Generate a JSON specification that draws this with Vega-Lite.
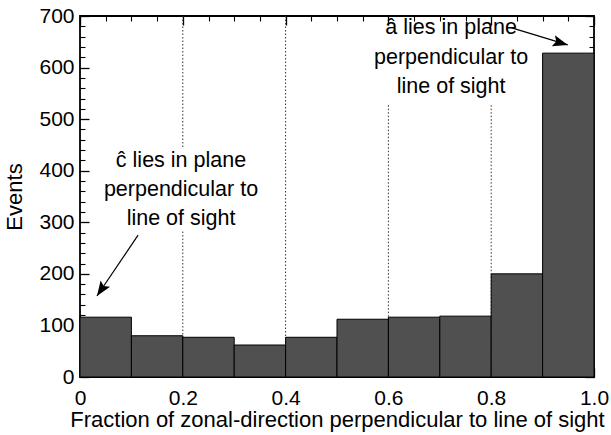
{
  "$schema": "https://vega.github.io/schema/vega-lite/v6.json",
  "width": 514,
  "height": 361,
  "autosize": {"type": "none"},
  "padding": {"left": 80, "top": 16, "right": 17, "bottom": 58},
  "config": {
    "view": {"stroke": "black", "strokeWidth": 1.8},
    "font": "Liberation Sans",
    "axis": {"domain": false, "grid": false, "labelColor": "black", "titleColor": "black", "labelFont": "Liberation Sans", "titleFont": "Liberation Sans", "labelFontSize": 21, "titleFontSize": 22, "titleFontWeight": "normal"}
  },
  "datasets": {
    "bars": [
      {"lo": 0.0, "hi": 0.1, "n": 116},
      {"lo": 0.1, "hi": 0.2, "n": 80},
      {"lo": 0.2, "hi": 0.3, "n": 77},
      {"lo": 0.3, "hi": 0.4, "n": 62},
      {"lo": 0.4, "hi": 0.5, "n": 77},
      {"lo": 0.5, "hi": 0.6, "n": 112},
      {"lo": 0.6, "hi": 0.7, "n": 116},
      {"lo": 0.7, "hi": 0.8, "n": 118},
      {"lo": 0.8, "hi": 0.9, "n": 200},
      {"lo": 0.9, "hi": 1.0, "n": 628}
    ],
    "grid": [
      {"x": 0.2, "y1": 700, "y2": 446},
      {"x": 0.2, "y1": 282, "y2": 0},
      {"x": 0.4, "y1": 700, "y2": 0},
      {"x": 0.6, "y1": 527, "y2": 0},
      {"x": 0.8, "y1": 527, "y2": 0}
    ],
    "labels": [
      {"x": 0.1965, "y": 419, "t": "ĉ lies in plane"},
      {"x": 0.1965, "y": 363, "t": "perpendicular to"},
      {"x": 0.1965, "y": 306, "t": "line of sight"},
      {"x": 0.722, "y": 676, "t": "â lies in plane"},
      {"x": 0.722, "y": 619, "t": "perpendicular to"},
      {"x": 0.722, "y": 562, "t": "line of sight"}
    ],
    "arrows": [
      {"x1": 0.113, "y1": 275, "x2": 0.033, "y2": 157, "ang": 214},
      {"x1": 0.84, "y1": 677, "x2": 0.949, "y2": 644, "ang": 106}
    ]
  },
  "resolve": {"axis": {"x": "independent", "y": "independent"}},
  "layer": [
    {
      "data": {"name": "grid"},
      "mark": {"type": "rule", "strokeDash": [1.5, 2], "strokeWidth": 1, "color": "#333"},
      "encoding": {
        "x": {"field": "x", "type": "quantitative", "scale": {"domain": [0, 1], "nice": false},
          "axis": {"orient": "bottom", "values": [0, 0.2, 0.4, 0.6, 0.8, 1.0], "labelExpr": "datum.value == 0 ? '0' : format(datum.value, '.1f')", "tickSize": -9, "tickColor": "black", "tickWidth": 1.3, "labelPadding": 19, "title": "Fraction of zonal-direction perpendicular to line of sight", "titlePadding": 1, "labelFlush": false}},
        "y": {"field": "y1", "type": "quantitative", "scale": {"domain": [0, 700], "nice": false},
          "axis": {"orient": "left", "values": [0, 100, 200, 300, 400, 500, 600, 700], "tickSize": -9, "tickColor": "black", "tickWidth": 1.3, "labelPadding": 15, "title": "Events", "titlePadding": 12, "labelFlush": false}},
        "y2": {"field": "y2"}
      }
    },
    {
      "data": {"name": "bars"},
      "mark": {"type": "rect", "fill": "#505050", "stroke": "black", "strokeWidth": 1},
      "encoding": {
        "x": {"field": "lo", "type": "quantitative", "scale": {"domain": [0, 1], "nice": false},
          "axis": {"orient": "top", "values": [0, 0.2, 0.4, 0.6, 0.8, 1.0], "labels": false, "tickSize": -9, "tickColor": "black", "tickWidth": 1.3, "title": null}},
        "x2": {"field": "hi"},
        "y": {"field": "n", "type": "quantitative", "scale": {"domain": [0, 700], "nice": false},
          "axis": {"orient": "right", "values": [0, 100, 200, 300, 400, 500, 600, 700], "labels": false, "tickSize": -9, "tickColor": "black", "tickWidth": 1.3, "title": null}},
        "y2": {"datum": 0}
      }
    },
    {
      "data": {"name": "labels"},
      "mark": {"type": "text", "fontSize": 21.5, "font": "Liberation Sans", "color": "black", "baseline": "middle", "align": "center"},
      "encoding": {
        "x": {"field": "x", "type": "quantitative", "scale": {"domain": [0, 1], "nice": false},
          "axis": {"orient": "bottom", "values": [0.05, 0.1, 0.15, 0.25, 0.3, 0.35, 0.45, 0.5, 0.55, 0.65, 0.7, 0.75, 0.85, 0.9, 0.95], "labels": false, "tickSize": -5, "tickColor": "black", "tickWidth": 1.1, "title": null}},
        "y": {"field": "y", "type": "quantitative", "scale": {"domain": [0, 700], "nice": false},
          "axis": {"orient": "left", "values": [20, 40, 60, 80, 120, 140, 160, 180, 220, 240, 260, 280, 320, 340, 360, 380, 420, 440, 460, 480, 520, 540, 560, 580, 620, 640, 660, 680], "labels": false, "tickSize": -5, "tickColor": "black", "tickWidth": 1.1, "title": null}},
        "text": {"field": "t"}
      }
    },
    {
      "data": {"name": "arrows"},
      "mark": {"type": "rule", "strokeWidth": 1.2, "color": "black"},
      "encoding": {
        "x": {"field": "x1", "type": "quantitative", "scale": {"domain": [0, 1], "nice": false},
          "axis": {"orient": "top", "values": [0.05, 0.1, 0.15, 0.25, 0.3, 0.35, 0.45, 0.5, 0.55, 0.65, 0.7, 0.75, 0.85, 0.9, 0.95], "labels": false, "tickSize": -5, "tickColor": "black", "tickWidth": 1.1, "title": null}},
        "y": {"field": "y1", "type": "quantitative", "scale": {"domain": [0, 700], "nice": false},
          "axis": {"orient": "right", "values": [20, 40, 60, 80, 120, 140, 160, 180, 220, 240, 260, 280, 320, 340, 360, 380, 420, 440, 460, 480, 520, 540, 560, 580, 620, 640, 660, 680], "labels": false, "tickSize": -5, "tickColor": "black", "tickWidth": 1.1, "title": null}},
        "x2": {"field": "x2"},
        "y2": {"field": "y2"}
      }
    },
    {
      "data": {"name": "arrows"},
      "mark": {"type": "point", "filled": true, "color": "black", "opacity": 1, "shape": "M0,0L0.38,1L0,0.8L-0.38,1Z", "size": 900},
      "encoding": {
        "x": {"field": "x2", "type": "quantitative", "scale": {"domain": [0, 1], "nice": false}, "axis": null},
        "y": {"field": "y2", "type": "quantitative", "scale": {"domain": [0, 700], "nice": false}, "axis": null},
        "angle": {"field": "ang", "type": "quantitative", "scale": null}
      }
    }
  ]
}
